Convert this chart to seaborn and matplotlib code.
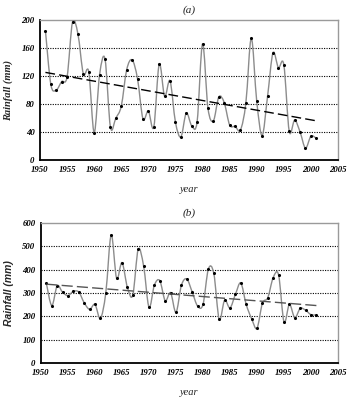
import numpy as np
import pandas as pd
import matplotlib
matplotlib.use("Agg")
import matplotlib.pyplot as plt
from matplotlib.path import Path
from matplotlib.patches import PathPatch
import seaborn as sns

years = list(range(1951, 2002))

rain_a = [185, 108, 100, 112, 119, 197, 180, 123, 126, 39,
          122, 144, 47, 60, 77, 129, 143, 116, 59, 70,
          47, 137, 91, 113, 54, 33, 67, 49, 55, 166,
          74, 56, 90, 82, 50, 48, 43, 82, 174, 84,
          35, 91, 153, 132, 136, 41, 57, 40, 17, 34, 31]

rain_b = [341, 246, 331, 303, 289, 307, 304, 258, 230, 251,
          191, 301, 549, 363, 430, 324, 291, 487, 416, 239,
          334, 353, 267, 301, 217, 333, 360, 304, 244, 251,
          403, 384, 187, 269, 236, 294, 343, 251, 190, 149,
          256, 280, 366, 377, 176, 251, 194, 234, 226, 207, 206]

xticks = list(range(1950, 2006, 5))
yticks_a = [0, 40, 80, 120, 160, 200]
yticks_b = [0, 100, 200, 300, 400, 500, 600]

serif = "Liberation Serif"
sans = "Liberation Sans"

sns.set_style("white")
plt.rcParams["font.family"] = [serif, "DejaVu Sans"]


def smooth_path(x, y):
    """Cubic Bezier path through every point (Catmull-Rom tangents)."""
    x = np.asarray(x, float)
    y = np.asarray(y, float)
    pts = np.column_stack([x, y])
    verts = [pts[0]]
    codes = [Path.MOVETO]
    n = len(pts)
    for i in range(n - 1):
        p0 = pts[max(i - 1, 0)]
        p1 = pts[i]
        p2 = pts[i + 1]
        p3 = pts[min(i + 2, n - 1)]
        c1 = p1 + (p2 - p0) / 6.0
        c2 = p2 - (p3 - p1) / 6.0
        verts += [c1, c2, p2]
        codes += [Path.CURVE4] * 3
    return Path(verts, codes)


def panel(ax, values, yticks, title, trend_color, ylab_family, dash):
    df = pd.DataFrame({"year": years, "rain": values})
    ax.add_patch(PathPatch(smooth_path(df["year"], df["rain"]),
                           facecolor="none", edgecolor="#8c8c8c",
                           lw=1.0, zorder=3))
    sns.scatterplot(data=df, x="year", y="rain", ax=ax, color="black",
                    s=5, linewidth=0, zorder=4, legend=False)
    sns.regplot(data=df, x="year", y="rain", ax=ax, scatter=False, ci=None,
                truncate=True,
                line_kws=dict(color=trend_color, lw=1.0, dashes=dash,
                              zorder=5))
    ax.set_xlim(1950, 2005)
    ax.set_ylim(yticks[0], yticks[-1])
    ax.set_xticks(xticks)
    ax.set_yticks(yticks)
    for t in yticks[1:-1]:
        ax.axhline(t, color="black", lw=0.8, ls=(0, (1, 1.2)), zorder=1)
    ax.set_xticklabels([str(v) for v in xticks], fontsize=6.3,
                       style="italic", fontweight="bold", family=serif)
    ax.set_yticklabels([str(v) for v in yticks], fontsize=6.3,
                       style="italic", fontweight="bold", family=serif)
    ax.tick_params(axis="both", direction="in", length=3, width=0.8,
                   pad=4, colors="black")
    ax.tick_params(axis="y", length=2)
    ax.set_xlabel("year", fontsize=7.5, style="italic", family=serif,
                  labelpad=8)
    ax.set_ylabel("Rainfall (mm)", fontsize=7.5, style="italic",
                  fontweight="bold", family=ylab_family, labelpad=6)
    ax.set_title(title, fontsize=8, style="italic", family=serif, pad=5)
    for side in ("left", "bottom"):
        ax.spines[side].set_color("black")
        ax.spines[side].set_linewidth(1.3)
    for side in ("top", "right"):
        ax.spines[side].set_color("#9a9a9a")
        ax.spines[side].set_linewidth(1.0)
    ax.set_facecolor("white")


fig = plt.figure(figsize=(3.48, 4.0), dpi=100)
ax1 = fig.add_axes([40 / 348, 1 - 160 / 400, 298 / 348, 140 / 400])
ax2 = fig.add_axes([41 / 348, 1 - 363 / 400, 297 / 348, 140 / 400])

panel(ax1, rain_a, yticks_a, "(a)", "black", serif, (7, 3))
panel(ax2, rain_b, yticks_b, "(b)", "#555555", sans, (8, 3))

fig.savefig("out.png", dpi=100, facecolor="white")
